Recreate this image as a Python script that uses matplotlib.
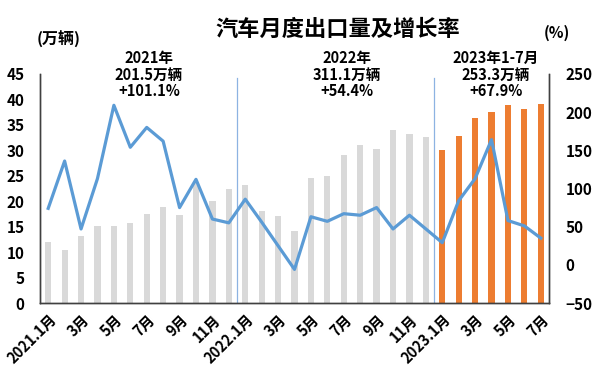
import matplotlib
matplotlib.use("Agg")
import matplotlib.pyplot as plt
import numpy as np

plt.rcParams['font.family'] = ['Noto Sans CJK SC', 'DejaVu Sans']
plt.rcParams['font.weight'] = 'bold'

# ---- data ----
months = (["2021.1月", "2月", "3月", "4月", "5月", "6月", "7月", "8月", "9月", "10月", "11月", "12月",
           "2022.1月", "2月", "3月", "4月", "5月", "6月", "7月", "8月", "9月", "10月", "11月", "12月",
           "2023.1月", "2月", "3月", "4月", "5月", "6月", "7月"])
export_vol = [11.9, 10.5, 13.2, 15.2, 15.2, 15.8, 17.5, 18.8, 17.3, 23.6, 20.1, 22.4,
              23.2, 18.1, 17.1, 14.2, 24.6, 25.0, 29.1, 31.0, 30.3, 33.9, 33.2, 32.6,
              30.1, 32.9, 36.4, 37.6, 38.9, 38.2, 39.2]
growth = [74, 136, 47, 113, 209, 154, 180, 162, 75, 112, 60, 55,
          86, 56, 25, -6, 63, 57, 67, 65, 75, 47, 65, 47,
          29, 84, 113, 164, 58, 51, 35]
year_of = [2021] * 12 + [2022] * 12 + [2023] * 7
annotations = ["2021年\n201.5万辆\n+101.1%", "2022年\n311.1万辆\n+54.4%", "2023年1-7月\n253.3万辆\n+67.9%"]
title = "汽车月度出口量及增长率"

GRAY = "#d9d9d9"
ORANGE = "#ed7d31"
BLUE = "#5b9bd5"

fig = plt.figure(figsize=(6.0, 3.68), dpi=100)
ax = fig.add_axes([40 / 600, 65 / 368, 509 / 600, 229 / 368])
ax2 = ax.twinx()

x = np.arange(len(months))
colors = [ORANGE if y == 2023 else GRAY for y in year_of]
ax.bar(x, export_vol, width=0.38, color=colors, zorder=2)

# separators between years
for i in range(1, len(year_of)):
    if year_of[i] != year_of[i - 1]:
        ax.plot([i - 0.5, i - 0.5], [0, 44.3], color="#8db3e2", lw=0.9, zorder=1)

ax2.plot(x, growth, color=BLUE, lw=2.3, zorder=3)

ax.set_xlim(-0.5, len(months) - 0.5)
ax.set_ylim(0, 45)
ax.set_yticks(np.arange(0, 46, 5))
ax2.set_ylim(-50, 250)
ax2.set_yticks(np.arange(-50, 251, 50))

ax.set_xticks(x[::2])
ax.set_xticklabels(months[::2], rotation=45, ha='right', va='top', rotation_mode='anchor',
                   fontsize=10.5, fontweight='bold')
ax.tick_params(axis='x', length=0, pad=6)
ax.tick_params(axis='y', length=0, pad=11, labelsize=11)
ax2.tick_params(axis='y', length=0, pad=12, labelsize=11)
for lab in ax.get_yticklabels() + ax2.get_yticklabels():
    lab.set_fontweight('bold')

for a in (ax, ax2):
    a.spines['top'].set_visible(False)
    for s in ('left', 'right', 'bottom'):
        a.spines[s].set_color('#404040')
        a.spines[s].set_linewidth(1.0)
ax2.patch.set_visible(False)

# annotations above each year block
ann_x = [149, 347, 496]
for px, txt in zip(ann_x, annotations):
    fig.text(px / 600, 1 - 50 / 368, txt, ha='center', va='top', fontsize=10.5,
             fontweight='bold', linespacing=1.05)

fig.text(338 / 600, 1 - 29 / 368, title, ha='center', va='center', fontsize=16, fontweight='bold')
fig.text(37 / 600, 1 - 39 / 368, "(万辆)", ha='left', va='center', fontsize=11.5, fontweight='bold')
fig.text(557 / 600, 1 - 33 / 368, "(%)", ha='center', va='center', fontsize=11, fontweight='bold')

fig.savefig("out.png", dpi=100)
